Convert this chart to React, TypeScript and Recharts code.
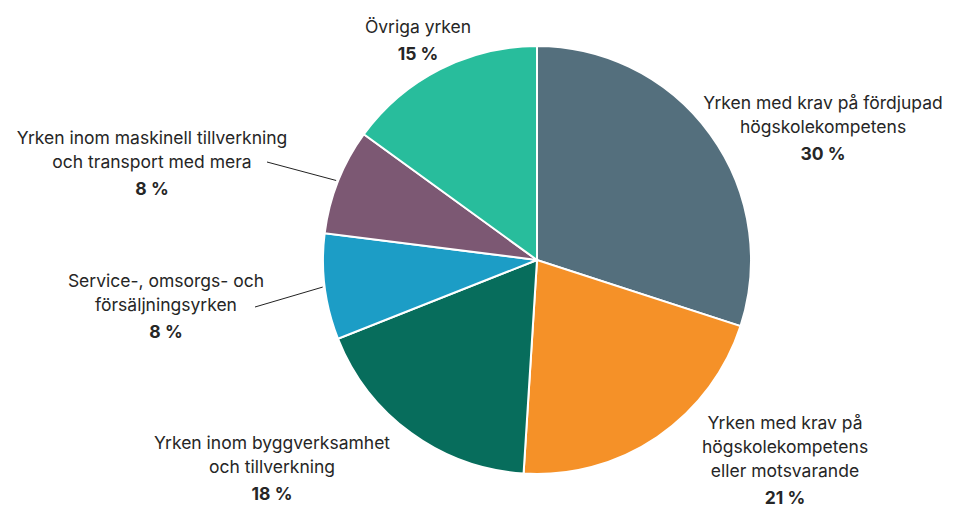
import { PieChart, Pie, Cell } from "recharts";

const CATEGORIES = [
  "Yrken med krav på fördjupad\nhögskolekompetens",
  "Yrken med krav på\nhögskolekompetens\neller motsvarande",
  "Yrken inom byggverksamhet\noch tillverkning",
  "Service-, omsorgs- och\nförsäljningsyrken",
  "Yrken inom maskinell tillverkning\noch transport med mera",
  "Övriga yrken",
];
const SHARES = [30, 21, 18, 8, 8, 15];
const COLORS = ["#546F7D", "#F59128", "#076D5C", "#1C9DC6", "#7C5873", "#28BD9C"];

// label block anchor (text centre x, first line y) relative to the pie centre
const LABEL_POS: [number, number][] = [
  [286, -158],
  [248, 162],
  [-265, 182],
  [-371, 20],
  [-385, -123],
  [-119, -234],
];
// leader line end (relative to centre) for the small slices
const LEADER_END: Record<number, [number, number]> = {
  3: [-282, 47],
  4: [-270, -98],
};

const data = CATEGORIES.map((name, i) => ({ name, value: SHARES[i] }));

const FONT = "Inter, 'Noto Sans', sans-serif";
const RAD = Math.PI / 180;

function renderLabel(props: any) {
  const { cx, cy, midAngle, outerRadius, index } = props;
  const lines = CATEGORIES[index].split("\n");
  const [dx, dy] = LABEL_POS[index];
  const x = cx + dx;
  const y0 = cy + dy;
  const lead = LEADER_END[index];
  let line = null;
  if (lead) {
    const sx = cx + (outerRadius + 2) * Math.cos(-midAngle * RAD);
    const sy = cy + (outerRadius + 2) * Math.sin(-midAngle * RAD);
    line = <line x1={sx} y1={sy} x2={cx + lead[0]} y2={cy + lead[1]} stroke="#222" strokeWidth={1} />;
  }
  return (
    <g key={`lbl-${index}`}>
      {line}
      {lines.map((t, k) => (
        <text
          key={k}
          x={x}
          y={y0 + k * 24}
          textAnchor="middle"
          dominantBaseline="central"
          fill="#262626"
          fontSize={17.5}
          fontFamily={FONT}
        >
          {t}
        </text>
      ))}
      <text
        x={x}
        y={y0 + (lines.length - 1) * 24 + 27}
        textAnchor="middle"
        dominantBaseline="central"
        fill="#262626"
        fontSize={17.5}
        fontWeight={700}
        fontFamily={FONT}
      >
        {`${SHARES[index]} %`}
      </text>
    </g>
  );
}

export default function App() {
  return (
    <div style={{ position: "absolute", left: 0, top: 0, background: "#fff" }}>
      <PieChart width={956} height={507} margin={{ top: 0, right: 0, bottom: 0, left: 0 }}>
        <Pie
          data={data}
          dataKey="value"
          nameKey="name"
          cx={537}
          cy={260}
          outerRadius={214}
          startAngle={90}
          endAngle={-270}
          stroke="#fff"
          strokeWidth={2}
          label={renderLabel}
          labelLine={false}
          isAnimationActive={false}
        >
          {data.map((d, i) => (
            <Cell key={d.name} fill={COLORS[i]} />
          ))}
        </Pie>
      </PieChart>
    </div>
  );
}
